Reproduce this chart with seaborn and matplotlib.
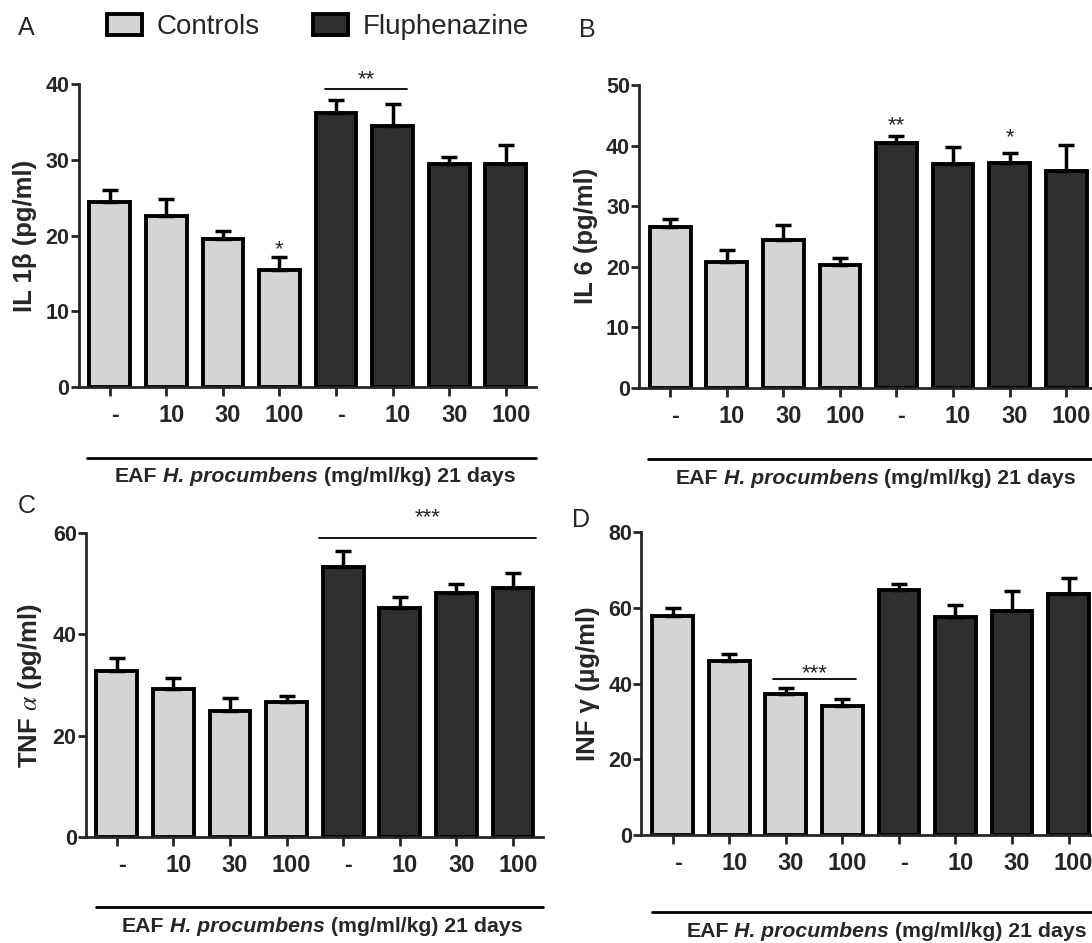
import numpy as np
import pandas as pd
import matplotlib
matplotlib.use("Agg")
import matplotlib.pyplot as plt
import seaborn as sns
from matplotlib.patches import Patch
from matplotlib.transforms import ScaledTranslation
from matplotlib.offsetbox import TextArea, HPacker, AnnotationBbox

# datos (media y barra de error superior)
doses = ["-", "10", "30", "100"]
groups = ["Controls", "Fluphenazine"]

il1b = [24.4, 22.6, 19.6, 15.5, 36.2, 34.5, 29.4, 29.4]
il1b_err = [1.6, 2.2, 1.0, 1.6, 1.7, 2.8, 1.0, 2.6]

il6 = [26.6, 20.8, 24.4, 20.2, 40.4, 36.9, 37.1, 35.8]
il6_err = [1.3, 1.9, 2.5, 1.2, 1.2, 2.8, 1.7, 4.3]

tnfa = [32.8, 29.3, 24.9, 26.7, 53.3, 45.2, 48.3, 49.1]
tnfa_err = [2.6, 2.1, 2.5, 1.1, 3.3, 2.3, 1.6, 3.0]

infg = [57.9, 46.0, 37.2, 34.2, 64.8, 57.6, 59.2, 63.6]
infg_err = [2.0, 1.9, 1.6, 1.7, 1.6, 3.2, 5.3, 4.2]

colors = {"Controls": "#d4d4d4", "Fluphenazine": "#2f2f2f"}

sns.set_style("ticks")
plt.rcParams["font.family"] = ["Liberation Sans", "DejaVu Sans"]
plt.rcParams["mathtext.fontset"] = "stix"
plt.rcParams["axes.linewidth"] = 2.0

fig = plt.figure(figsize=(10.92, 9.43), dpi=100)

panels = [
    ("A", il1b, il1b_err, "IL 1\u03b2 (pg/ml)", [0, 10, 20, 30, 40], [0.0720, 0.5896, 0.4186, 0.3213]),
    ("B", il6, il6_err, "IL 6 (pg/ml)", [0, 10, 20, 30, 40, 50], [0.5852, 0.5889, 0.4186, 0.3210]),
    ("C", tnfa, tnfa_err, r"TNF $\alpha$ (pg/ml)", [0, 20, 40, 60], [0.0785, 0.1127, 0.4187, 0.3217]),
    ("D", infg, infg_err, "INF \u03b3 (\u00b5g/ml)", [0, 20, 40, 60, 80], [0.5874, 0.1145, 0.4187, 0.3210]),
]

conds = [g[0] + d for g in groups for d in doses]
axes = {}

for name, vals, errs, ylab, yt, rect in panels:
    ax = fig.add_axes(rect)
    df = pd.DataFrame({
        "cond": conds,
        "value": vals,
        "group": [g for g in groups for d in doses],
    })
    sns.barplot(data=df, x="cond", y="value", hue="group", order=conds,
                palette=colors, dodge=False, width=0.72, edgecolor="black",
                linewidth=2.8, errorbar=None, legend=False, ax=ax)
    bars = sorted(ax.patches, key=lambda p: p.get_x())
    xs = [p.get_x() + p.get_width() / 2 for p in bars]
    ax.errorbar(xs, vals, yerr=[np.zeros(len(vals)), errs], fmt="none",
                ecolor="black", elinewidth=2.5, capsize=5.8, capthick=2.5, zorder=1)
    ax.set_xlim(-0.55, 7.53)
    ax.set_ylim(0, yt[-1])
    ax.set_yticks(yt)
    ax.set_xticks(range(8))
    ax.set_xticklabels(doses * 2)
    ax.set_xlabel("")
    ax.set_ylabel(ylab, fontsize=18.5, fontweight="bold", labelpad=6)
    sns.despine(ax=ax)
    ax.tick_params(axis="x", length=6.5, width=2, pad=6, labelsize=17)
    ax.tick_params(axis="y", length=5.5, width=2, pad=1, labelsize=15.5)
    for lab in ax.get_xticklabels() + ax.get_yticklabels():
        lab.set_fontweight("bold")
    for lab in ax.get_xticklabels():
        lab.set_transform(lab.get_transform() + ScaledTranslation(0.05, 0, fig.dpi_scale_trans))
    axes[name] = ax

# linea inferior y texto del tratamiento
bottom = {"A": (-0.40, -0.234, 3.63, -0.297), "B": (-0.39, -0.236, 3.63, -0.300),
          "C": (-0.377, -0.233, 3.63, -0.296), "D": (-0.36, -0.255, 3.78, -0.319)}
for name, (x0, yl, xc, yt_) in bottom.items():
    ax = axes[name]
    tr = ax.get_xaxis_transform()
    ax.plot([x0, 7.53], [yl, yl], transform=tr, color="black", lw=2, clip_on=False)
    parts = [TextArea("EAF", textprops=dict(fontsize=15.3, fontweight="bold")),
             TextArea("H. procumbens", textprops=dict(fontsize=15.3, fontweight="bold", fontstyle="italic")),
             TextArea("(mg/ml/kg) 21 days", textprops=dict(fontsize=15.3, fontweight="bold"))]
    box = HPacker(children=parts, align="baseline", pad=0, sep=4.2)
    ab = AnnotationBbox(box, (xc, yt_), xycoords=tr, frameon=False,
                        box_alignment=(0.5, 0.5), pad=0, annotation_clip=False)
    ax.add_artist(ab)

# significancia
ax = axes["A"]
ax.plot([3.80, 5.26], [39.3, 39.3], color="black", lw=1.3, clip_on=False)
ax.text(4.53, 39.2, "**", ha="center", va="bottom", fontsize=16, clip_on=False)
ax.text(3, 16.7, "*", ha="center", va="bottom", fontsize=16)
ax = axes["B"]
ax.text(4, 41.6, "**", ha="center", va="bottom", fontsize=16)
ax.text(6, 39.6, "*", ha="center", va="bottom", fontsize=16)
ax = axes["C"]
ax.plot([3.57, 7.41], [59.0, 59.0], color="black", lw=1.3, clip_on=False)
ax.text(5.49, 61.0, "***", ha="center", va="bottom", fontsize=16, clip_on=False)
ax = axes["D"]
ax.plot([1.78, 3.24], [41.2, 41.2], color="black", lw=1.3)
ax.text(2.51, 39.8, "***", ha="center", va="bottom", fontsize=16)

# letras de los paneles
for lt, x, y in [("A", 18, 35), ("B", 579, 37), ("C", 18, 513), ("D", 572, 527)]:
    fig.text(x / 1092, 1 - y / 943, lt, fontsize=18, ha="left", va="baseline")

handles = [Patch(facecolor=colors[g], edgecolor="black", linewidth=2.8) for g in groups]
fig.legend(handles, groups, loc="upper left", bbox_to_anchor=(107 / 1092, 1 - 14 / 943),
           ncol=2, frameon=False, fontsize=20, handlelength=1.25, handleheight=0.8,
           handletextpad=0.55, columnspacing=1.9, borderpad=0, borderaxespad=0)

fig.savefig("out.png", dpi=100)
